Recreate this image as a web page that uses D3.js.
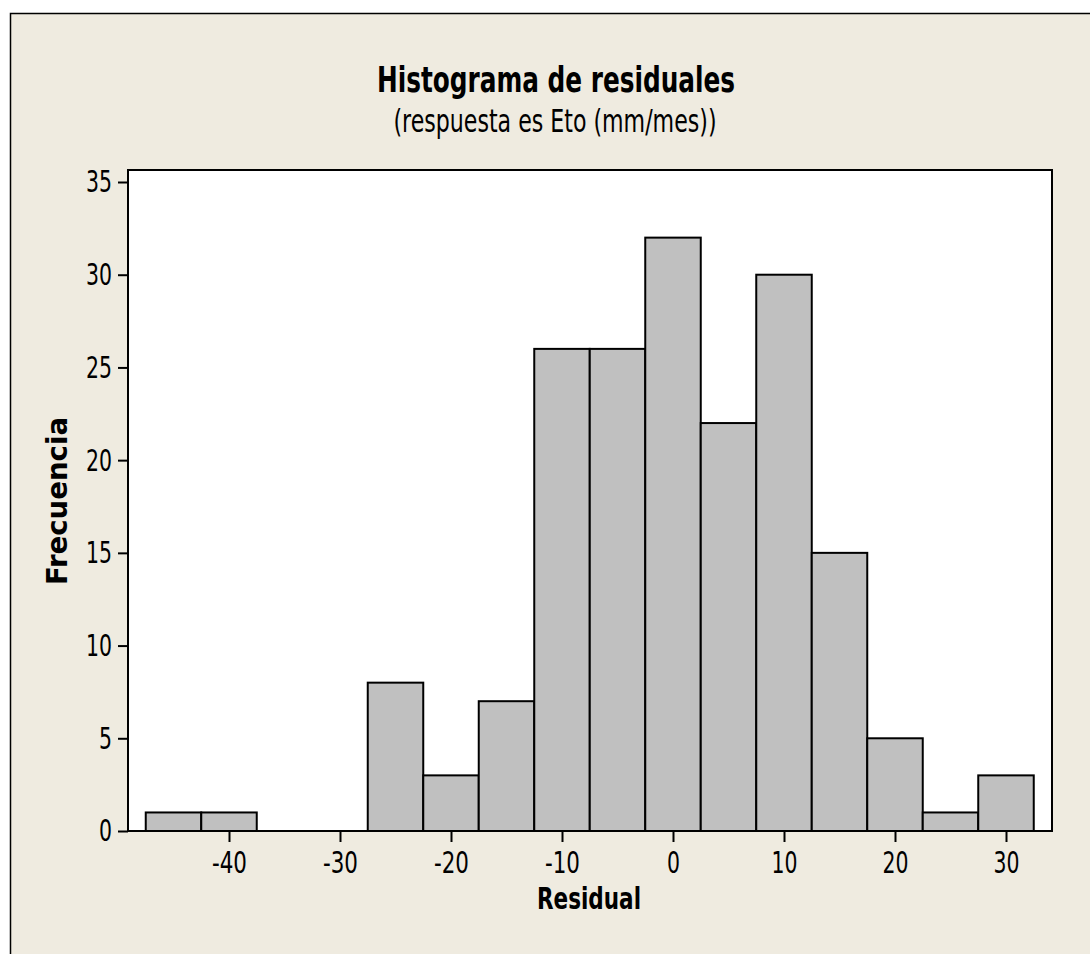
<!DOCTYPE html>
<html>
<head>
<meta charset="utf-8">
<script src="https://cdn.jsdelivr.net/npm/d3@7"></script>
<style>
  body { margin: 0; background: #fff; }
  text { font-family: "Liberation Sans Narrow", "DejaVu Sans Condensed", sans-serif; fill: #000; }
</style>
</head>
<body>
<div id="chart"></div>
<script>
// histogram of residuals, bins of width 5 centred on these midpoints
const binMids = [-45, -40, -35, -30, -25, -20, -15, -10, -5, 0, 5, 10, 15, 20, 25, 30];
const counts  = [1, 1, 0, 0, 8, 3, 7, 26, 26, 32, 22, 30, 15, 5, 1, 3];
const binW = 5;
const yTicks = [0, 5, 10, 15, 20, 25, 30, 35];
const xTicks = [-40, -30, -20, -10, 0, 10, 20, 30];

const W = 1090, H = 954;
const plot = { left: 128, right: 1052, top: 170, bottom: 831 };

const svg = d3.select('#chart').append('svg')
  .attr('width', W)
  .attr('height', H);

// outer panel
svg.append('rect')
  .attr('x', 10.5).attr('y', 13.5)
  .attr('width', W + 20).attr('height', H + 20)
  .attr('fill', '#EFEBE0')
  .attr('stroke', '#000')
  .attr('stroke-width', 1.5);

const x = d3.scaleLinear().domain([-40, 30]).range([229, 1006]);
const y = d3.scaleLinear().domain([0, 35]).range([plot.bottom, 182]);

svg.append('rect')
  .attr('x', plot.left).attr('y', plot.top)
  .attr('width', plot.right - plot.left).attr('height', plot.bottom - plot.top)
  .attr('fill', '#fff');

svg.selectAll('.bar')
  .data(binMids)
  .enter().append('rect')
  .attr('class', 'bar')
  .attr('x', function (d) { return x(d - binW / 2); })
  .attr('y', function (d, i) { return y(counts[i]); })
  .attr('width', function (d) { return x(d + binW / 2) - x(d - binW / 2); })
  .attr('height', function (d, i) { return y(0) - y(counts[i]); })
  .attr('fill', '#C0C0C0')
  .attr('stroke', '#000')
  .attr('stroke-width', 2);

// frame
svg.append('rect')
  .attr('x', plot.left).attr('y', plot.top)
  .attr('width', plot.right - plot.left).attr('height', plot.bottom - plot.top)
  .attr('fill', 'none')
  .attr('stroke', '#000')
  .attr('stroke-width', 2);

const fmt = function (d) { return String(d); }; // plain hyphen, not U+2212

const yAxis = svg.append('g')
  .attr('transform', 'translate(' + plot.left + ',0)')
  .call(d3.axisLeft(y).tickValues(yTicks).tickFormat(fmt).tickSize(10).tickPadding(6));

const xAxis = svg.append('g')
  .attr('transform', 'translate(0,' + plot.bottom + ')')
  .call(d3.axisBottom(x).tickValues(xTicks).tickFormat(fmt).tickSize(11).tickPadding(9));

[yAxis, xAxis].forEach(function (g) {
  g.select('.domain').remove();
  g.selectAll('line').attr('stroke', '#000').attr('stroke-width', 2);
  g.selectAll('text')
    .attr('font-size', 31)
    .attr('font-family', '"Liberation Sans Narrow", "DejaVu Sans Condensed", sans-serif')
    .attr('fill', '#000')
    .attr('lengthAdjust', 'spacingAndGlyphs')
    .attr('textLength', function (d) {
      const s = String(d);
      return s.replace('-', '').length * 13 + (s.indexOf('-') >= 0 ? 9 : 0);
    });
});

svg.append('text')
  .attr('x', 556).attr('y', 92)
  .attr('text-anchor', 'middle')
  .attr('font-size', 36)
  .attr('font-weight', 'bold')
  .attr('textLength', 358)
  .attr('lengthAdjust', 'spacingAndGlyphs')
  .text('Histograma de residuales');

svg.append('text')
  .attr('x', 555).attr('y', 132)
  .attr('text-anchor', 'middle')
  .attr('font-size', 32)
  .attr('textLength', 323)
  .attr('lengthAdjust', 'spacingAndGlyphs')
  .text('(respuesta es Eto (mm/mes))');

svg.append('text')
  .attr('x', 589).attr('y', 909)
  .attr('text-anchor', 'middle')
  .attr('font-size', 31)
  .attr('font-weight', 'bold')
  .attr('textLength', 104)
  .attr('lengthAdjust', 'spacingAndGlyphs')
  .text('Residual');

svg.append('text')
  .attr('transform', 'translate(67,501) rotate(-90)')
  .attr('text-anchor', 'middle')
  .attr('font-size', 28)
  .attr('font-weight', 'bold')
  .attr('textLength', 168)
  .attr('lengthAdjust', 'spacingAndGlyphs')
  .text('Frecuencia');
</script>
</body>
</html>
